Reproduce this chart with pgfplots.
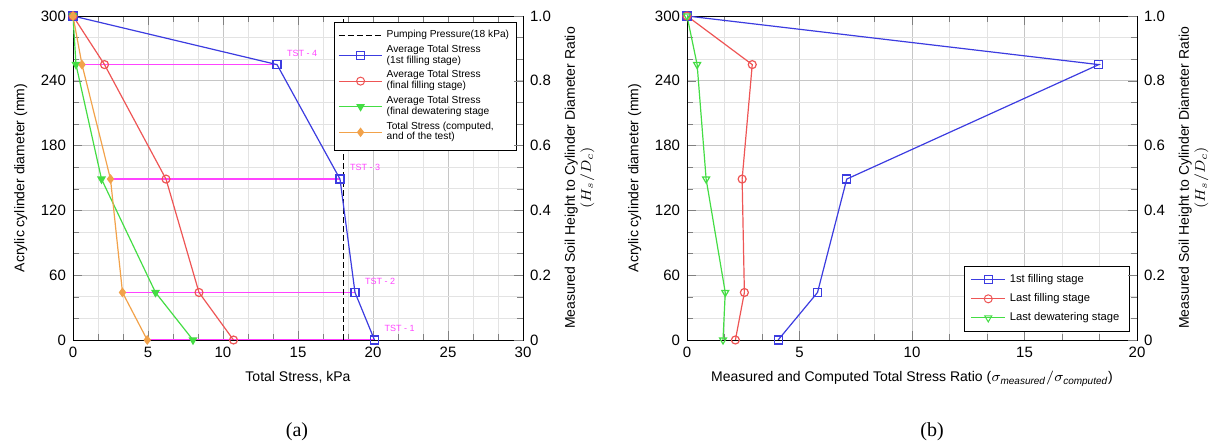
\documentclass[border=0pt]{standalone}
\usepackage{pgfplots}
\pgfplotsset{compat=1.18}
\usepackage{fontspec}
\setmainfont{Liberation Sans}
\newfontfamily\capfont{Liberation Serif}
\definecolor{sblue}{HTML}{3C3CE0}
\definecolor{sred}{HTML}{EE5555}
\definecolor{sgreen}{HTML}{44DD44}
\definecolor{sorange}{HTML}{F2A24A}
\definecolor{smag}{HTML}{FF44FF}

\tikzset{tst/.style={smag, font=\fontsize{4.5}{5}\selectfont, anchor=south west, xshift=1.5pt, yshift=0.5pt}}

\pgfplotsset{
  base/.style={
    width=225pt, height=162pt, scale only axis,
    ymin=0, ymax=300, ytick={0,60,...,300},
    minor x tick num=2, minor y tick num=2,
    grid=both, major grid style={gray!45}, minor grid style={gray!22},
    tick label style={font=\fontsize{7.5}{8}\selectfont},
    label style={font=\fontsize{7}{8}\selectfont},
    /pgf/number format/assume math mode=true,
    ytick pos=left, tick align=inside,
    every axis plot/.append style={line width=0.6pt},
  },
  rax/.style={
    width=225pt, height=162pt, scale only axis,
    ymin=0, ymax=1, ytick={0,0.2,0.4,0.6,0.8,1},
    yticklabels={0,0.2,0.4,0.6,0.8,1.0},
    minor y tick num=2,
    axis y line*=right, axis x line=none,
    tick label style={font=\fontsize{7.5}{8}\selectfont},
    label style={font=\fontsize{7}{8}\selectfont},
    /pgf/number format/assume math mode=true,
    ylabel={Measured Soil Height to Cylinder Diameter Ratio\\$(H_s/D_c)$},
    ylabel style={align=center},
  },
}

\begin{document}
\begin{tikzpicture}
\path (-36.5pt,-54pt) rectangle (572.5pt,170pt);

% ---- (a)
\begin{axis}[base, at={(0,0)},
  xmin=0, xmax=30, xtick={0,5,...,30},
  xlabel={Total Stress, kPa},
  ylabel={Acrylic cylinder diameter (mm)},
  legend style={at={(0.987,0.981)}, anchor=north east,
    font=\fontsize{5.1}{5.4}\selectfont, cells={align=left}, draw=black, row sep=-1.8pt,
    inner sep=1.8pt},
  legend image code/.code={
    \draw[mark repeat=2,mark phase=2] plot coordinates {(0cm,0cm) (0.38cm,0cm) (0.76cm,0cm)};},
  legend image post style={line width=0.5pt},
  legend cell align=left,
]
\addplot[smag, forget plot] coordinates {(0.6,255) (13.6,255)};
\addplot[smag, forget plot] coordinates {(2.5,149) (17.8,149)};
\addplot[smag, forget plot] coordinates {(3.3,44) (18.8,44)};
\addplot[smag, forget plot] coordinates {(4.95,0) (20.1,0)};
\draw[black, dash pattern=on 3pt off 1.5pt, line width=0.45pt] (axis cs:18,0) -- (axis cs:18,300);
\addlegendimage{black, dash pattern=on 3pt off 1.5pt, line width=0.45pt}
\addlegendentry{Pumping Pressure(18 kPa)}
\addplot[sblue, mark=square, mark size=2pt] coordinates {
  (0,300) (13.6,255) (17.8,149) (18.8,44) (20.1,0)};
\addlegendentry{Average Total Stress\\(1st filling stage)}
\addplot[sred, mark=o, mark size=2pt] coordinates {
  (0,300) (2.1,255) (6.2,149) (8.4,44) (10.7,0)};
\addlegendentry{Average Total Stress\\(final filling stage)}
\addplot[sgreen, mark=triangle*, mark size=2pt, mark options={rotate=180}] coordinates {
  (0,300) (0.2,255) (1.9,149) (5.5,44) (8.0,0)};
\addlegendentry{Average Total Stress\\(final dewatering stage}
\addplot[sorange, mark=diamond*, mark size=2pt] coordinates {
  (0,300) (0.6,255) (2.5,149) (3.3,44) (4.95,0)};
\addlegendentry{Total Stress (computed,\\ and of the test)}
\node[tst] at (axis cs:13.6,255) {TST - 4};
\node[tst] at (axis cs:17.8,149) {TST - 3};
\node[tst] at (axis cs:18.8,44) {TST - 2};
\node[tst] at (axis cs:20.1,0) {TST - 1};
\end{axis}
\begin{axis}[rax, at={(0,0)}, xmin=0, xmax=30]
\end{axis}

% ---- (b)
\begin{axis}[base, at={(307pt,0)},
  xmin=0, xmax=20, xtick={0,5,...,20},
  xlabel={Measured and Computed Total Stress Ratio ($\sigma_{\mathit{measured}}/\sigma_{\mathit{computed}}$)},
  ylabel={Acrylic cylinder diameter (mm)},
  legend style={at={(0.984,0.025)}, anchor=south east,
    font=\fontsize{5.6}{6.4}\selectfont, draw=black, row sep=0pt},
  legend image post style={line width=0.5pt},
  legend cell align=left,
]
\addplot[sblue, mark=square, mark size=2pt] coordinates {
  (0,300) (18.3,255) (7.1,149) (5.8,44) (4.05,0)};
\addlegendentry{1st filling stage}
\addplot[sred, mark=o, mark size=2pt] coordinates {
  (0,300) (2.9,255) (2.45,149) (2.55,44) (2.15,0)};
\addlegendentry{Last filling stage}
\addplot[sgreen, mark=triangle, mark size=2pt, mark options={rotate=180}] coordinates {
  (0,300) (0.45,255) (0.85,149) (1.7,44) (1.6,0)};
\addlegendentry{Last dewatering stage}
\end{axis}
\begin{axis}[rax, at={(307pt,0)}, xmin=0, xmax=20]
\end{axis}

\node[font=\capfont\fontsize{10}{12}\selectfont] at (112pt,-46pt) {(a)};
\node[font=\capfont\fontsize{10}{12}\selectfont] at (429.5pt,-46pt) {(b)};
\end{tikzpicture}
\end{document}
